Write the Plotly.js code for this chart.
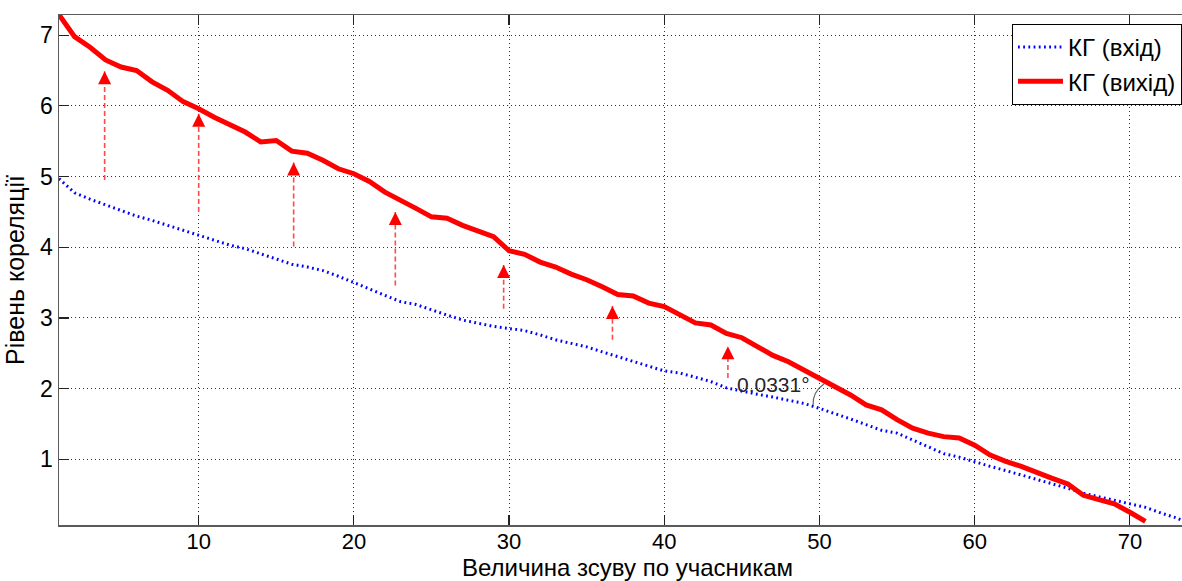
<!DOCTYPE html>
<html>
<head>
<meta charset="utf-8">
<script src="https://cdn.plot.ly/plotly-3.0.1.min.js"></script>
<style>
html,body{margin:0;padding:0;overflow:hidden;background:#fff;}
#chart{width:1200px;height:581px;}
</style>
</head>
<body>
<div id="chart"></div>
<script>
// ---- data ----
var inputX = [1,2,3,4,5,6,7,8,9,10,11,12,13,14,15,16,17,18,19,20,21,22,23,24,25,26,27,28,29,30,31,32,33,34,35,36,37,38,39,40,41,42,43,44,45,46,47,48,49,50,51,52,53,54,55,56,57,58,59,60,61,62,63,64,65,66,67,68,69,70,71,72,73,73.4];
var inputY = [4.97,4.77,4.68,4.60,4.52,4.44,4.38,4.31,4.24,4.17,4.11,4.03,3.98,3.91,3.83,3.76,3.72,3.67,3.59,3.50,3.40,3.32,3.23,3.19,3.11,3.04,2.97,2.92,2.88,2.85,2.82,2.76,2.69,2.64,2.59,2.52,2.45,2.39,2.32,2.25,2.22,2.16,2.10,2.01,1.96,1.92,1.88,1.84,1.79,1.72,1.65,1.57,1.49,1.41,1.37,1.27,1.18,1.08,1.03,0.96,0.90,0.84,0.78,0.72,0.66,0.59,0.52,0.47,0.42,0.38,0.32,0.24,0.17,0.13];

var outputX = [1,2,3,4,5,6,7,8,9,10,11,12,13,14,15,16,17,18,19,20,21,22,23,24,25,26,27,28,29,30,31,32,33,34,35,36,37,38,39,40,41,42,43,44,45,46,47,48,49,50,51,52,53,54,55,56,57,58,59,60,61,62,63,64,65,66,67,68,69,70,71];
var outputY = [7.29,6.98,6.83,6.65,6.55,6.50,6.34,6.22,6.06,5.96,5.84,5.74,5.63,5.49,5.51,5.36,5.33,5.23,5.11,5.04,4.93,4.78,4.67,4.55,4.43,4.41,4.31,4.23,4.15,3.95,3.90,3.79,3.72,3.62,3.54,3.44,3.33,3.31,3.21,3.16,3.04,2.93,2.90,2.78,2.72,2.59,2.47,2.38,2.26,2.16,2.04,1.91,1.77,1.70,1.56,1.44,1.37,1.32,1.30,1.20,1.06,0.97,0.90,0.81,0.73,0.65,0.49,0.43,0.37,0.25,0.12];

var arrowX    = [3.94,10.0,16.12,22.67,29.65,36.66,44.1];
var arrowTop  = [6.49,5.89,5.20,4.50,3.75,3.17,2.60];
var arrowBase = [4.95,4.50,4.01,3.46,3.13,2.69,2.15];

var legendNames = ['КГ (вхід)','КГ (вихід)'];
var xTicks = [10,20,30,40,50,60,70];
var yTicks = [1,2,3,4,5,6,7];
var angleLabel = '0.0331°';
var angleLabelPos = [47.03, 2.06];
var arcPts = [[49.59,1.77],[49.54,1.95],[50.30,2.07]];

// ---- build ----
var shaftX = [], shaftY = [];
for (var i = 0; i < arrowX.length; i++) {
  shaftX.push(arrowX[i], arrowX[i], null);
  shaftY.push(arrowBase[i], arrowTop[i], null);
}

var FONT = 'Liberation Sans, Arial, sans-serif';

var traces = [
  {x: inputX, y: inputY, type: 'scatter', mode: 'lines', name: legendNames[0],
   line: {color: '#0000ff', width: 3, dash: '1.8px,3.4px'}},
  {x: outputX, y: outputY, type: 'scatter', mode: 'lines', name: legendNames[1],
   line: {color: '#ff0000', width: 5}},
  {x: shaftX, y: shaftY, type: 'scatter', mode: 'lines', showlegend: false, hoverinfo: 'skip',
   line: {color: '#ff4a4a', width: 1.6, dash: '5px,3px'}},
  {x: arrowX, y: arrowTop, type: 'scatter', mode: 'markers', showlegend: false, hoverinfo: 'skip',
   marker: {symbol: 'arrow-up', size: 13, color: '#ff0000', line: {width: 0}}}
];

var axisCommon = {
  showline: true, linecolor: '#5a5a5a', linewidth: 1.5, mirror: 'ticks',
  ticks: 'inside', ticklen: 10, tickcolor: '#222', tickwidth: 1.2,
  showgrid: true, gridcolor: '#333', gridwidth: 1, griddash: '1px,3px',
  zeroline: false, automargin: false, tickfont: {family: FONT, size: 23, color: '#000'}
};

var L = 59, R = 4, T = 15, B = 56, W = 1200, H = 581;
var plotW = W - L - R, plotH = H - T - B;

var layout = {
  width: W, height: H,
  margin: {l: L, r: R, t: T, b: B, autoexpand: false},
  paper_bgcolor: '#fff', plot_bgcolor: '#fff',
  font: {family: FONT, color: '#000'},
  xaxis: Object.assign({}, axisCommon, {
    range: [1, 74.26], tickvals: xTicks, ticktext: xTicks.map(String),
    ticklabelstandoff: -4,
    tickfont: {family: FONT, size: 22, color: '#000'},
    title: {text: 'Величина зсуву по учасникам', font: {family: FONT, size: 24, color: '#000'}, standoff: 4}
  }),
  yaxis: Object.assign({}, axisCommon, {
    range: [0.07, 7.286], tickvals: yTicks, ticktext: yTicks.map(String),
    title: {text: 'Рівень кореляції', font: {family: FONT, size: 25, color: '#000'}, standoff: 8}
  }),
  legend: {
    xref: 'paper', yref: 'paper', x: (1012 - L) / plotW, y: (H - B - 24) / plotH,
    xanchor: 'left', yanchor: 'top',
    bgcolor: '#fff', bordercolor: '#000', borderwidth: 1,
    font: {family: FONT, size: 24, color: '#000'},
    itemwidth: 45,
    tracegroupgap: 0
  },
  annotations: [{
    x: angleLabelPos[0], y: angleLabelPos[1], xref: 'x', yref: 'y',
    text: angleLabel, showarrow: false,
    font: {family: FONT, size: 21, color: '#262626'}
  }],
  shapes: [{
    type: 'path', xref: 'x', yref: 'y',
    path: 'M ' + arcPts[0][0] + ',' + arcPts[0][1] + ' Q ' + arcPts[1][0] + ',' + arcPts[1][1] + ' ' + arcPts[2][0] + ',' + arcPts[2][1],
    line: {color: '#666', width: 1.2}
  }],
  showlegend: true
};

Plotly.newPlot('chart', traces, layout, {displayModeBar: false, staticPlot: true});
</script>
</body>
</html>
